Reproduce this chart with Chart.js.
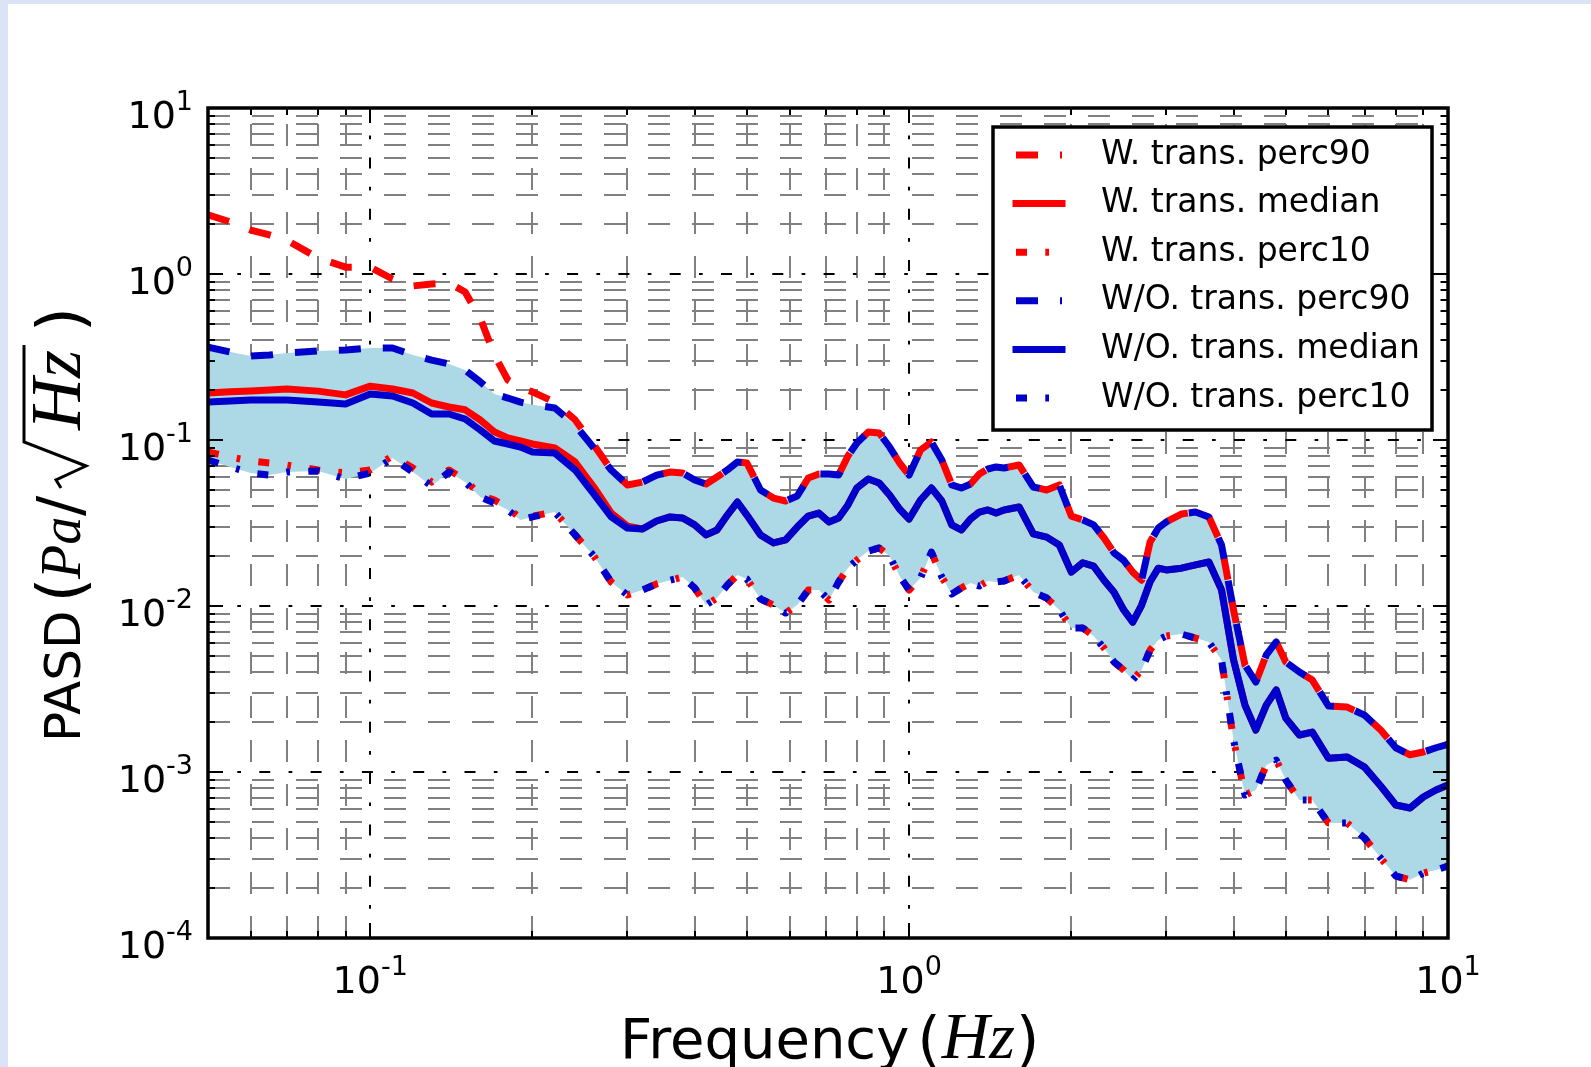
<!DOCTYPE html>
<html>
<head>
<meta charset="utf-8">
<title>PASD</title>
<script src="https://cdn.jsdelivr.net/npm/chart.js@4.4.1/dist/chart.umd.min.js"></script>
<style>
  html, body { margin: 0; padding: 0; background: #dbe4f4; overflow: hidden; }
  #wrap { position: absolute; left: 8px; top: 4px; width: 1583px; height: 1063px; background: #fff; }
  canvas { display: block; }
</style>
</head>
<body>
<div id="wrap"><canvas id="psdChart" width="1583" height="1063"></canvas></div>
<script>
const freqs = [
    0.05, 0.055, 0.06, 0.065, 0.07, 0.08, 0.09, 0.1,
    0.11, 0.12, 0.13, 0.14, 0.15, 0.16, 0.17, 0.18, 0.19, 0.2,
    0.22, 0.24, 0.26, 0.28, 0.3,
    0.32, 0.34, 0.36, 0.38, 0.4, 0.42, 0.44, 0.46, 0.48,
    0.5, 0.53, 0.56, 0.59, 0.62, 0.65, 0.68, 0.71, 0.74, 0.77, 0.8,
    0.84, 0.88, 0.92, 0.96, 1.0,
    1.05, 1.1, 1.15, 1.2, 1.25, 1.3, 1.35, 1.4, 1.45, 1.5,
    1.6, 1.7, 1.8, 1.9, 2.0,
    2.1, 2.2, 2.3, 2.4, 2.5, 2.6, 2.7, 2.8, 2.9, 3.0,
    3.2, 3.4, 3.6, 3.8, 4.0,
    4.2, 4.4, 4.6, 4.8, 5.0,
    5.3, 5.6, 6.0, 6.5, 7.0, 7.5, 8.0, 8.5, 9.0, 9.5, 10
];

// With transducer (red)
const wPerc90 = [
    2.27, 2.06, 1.84, 1.72, 1.60, 1.25, 1.10, 1.10,
    0.933, 0.847, 0.871, 0.883, 0.779, 0.543, 0.325, 0.230, 0.206, 0.195,
    0.169, 0.132, 0.0933, 0.066, 0.0536,
    0.0558, 0.0615, 0.0641, 0.0633, 0.0574, 0.0543, 0.0599, 0.066, 0.0737,
    0.0727, 0.05, 0.0447, 0.0429, 0.046, 0.059, 0.0624, 0.0624, 0.0615, 0.0801, 0.0959,
    0.1117, 0.1102, 0.0907, 0.0727, 0.0615,
    0.087, 0.0972, 0.0758, 0.0536, 0.0514, 0.0543, 0.0624, 0.0669, 0.0688, 0.0678,
    0.0707, 0.0521, 0.05, 0.0536, 0.0348,
    0.033, 0.0308, 0.0257, 0.0209, 0.0189, 0.016, 0.0143, 0.0243, 0.0295, 0.0321,
    0.0358, 0.0368, 0.0344, 0.0233, 0.00946,
    0.00441, 0.00348, 0.00507, 0.00607, 0.0046,
    0.004, 0.00358, 0.0025, 0.00246, 0.0022, 0.00179, 0.0014, 0.00127, 0.00132, 0.0014, 0.00147
];
const wMedian = [
    0.192, 0.195, 0.197, 0.200, 0.203, 0.197, 0.187, 0.211,
    0.203, 0.192, 0.167, 0.158, 0.152, 0.132, 0.112, 0.103, 0.0986, 0.0946,
    0.0895, 0.0737, 0.0521, 0.0363, 0.0303,
    0.0291, 0.0325, 0.0344, 0.0339, 0.0308, 0.0268, 0.0287, 0.0353, 0.0423,
    0.0353, 0.0268, 0.024, 0.025, 0.0299, 0.0348, 0.0363, 0.0321, 0.0339, 0.0406, 0.0514,
    0.0582, 0.0551, 0.0466, 0.0384, 0.0334,
    0.0435, 0.0514, 0.0429, 0.0308, 0.0287, 0.0334, 0.0368, 0.0379, 0.0363, 0.0379,
    0.0395, 0.0272, 0.026, 0.0233, 0.016,
    0.0182, 0.0174, 0.0143, 0.0121, 0.0095, 0.008, 0.0101, 0.014, 0.0169, 0.0165,
    0.0169, 0.0177, 0.0184, 0.0125, 0.00473,
    0.00253, 0.00179, 0.00253, 0.00312, 0.00211,
    0.00167, 0.00174, 0.00121, 0.00123, 0.00107, 0.000824, 0.000633, 0.000607, 0.000707, 0.000779, 0.000835
];
const wPerc10 = [
    0.0847, 0.079, 0.0747, 0.0727, 0.0707, 0.066, 0.0633, 0.066,
    0.0801, 0.0678, 0.0558, 0.066, 0.0574, 0.0466, 0.0435, 0.0389, 0.0339, 0.0348,
    0.0368, 0.0268, 0.02, 0.01395, 0.01165,
    0.01248, 0.01357, 0.0143, 0.01495, 0.01284, 0.01014, 0.01117, 0.01338, 0.01537,
    0.01455, 0.01102, 0.01014, 0.00907, 0.01014, 0.01248, 0.01248, 0.01087, 0.01395, 0.01694, 0.0189,
    0.02144, 0.02236, 0.02, 0.01516, 0.01248,
    0.01475, 0.02114, 0.01495, 0.01181, 0.01284, 0.01376, 0.01319, 0.01415, 0.01395, 0.01415,
    0.01537, 0.01214, 0.01117, 0.00946, 0.00737,
    0.00737, 0.0066, 0.00558, 0.0046, 0.00412, 0.00358, 0.00412, 0.00543, 0.00624, 0.0066,
    0.00678, 0.00641, 0.00607, 0.00473, 0.00156,
    0.000727, 0.000779, 0.0011, 0.00118, 0.000895,
    0.000678, 0.000678, 0.000493, 0.000493, 0.0004, 0.000303, 0.000236, 0.000224, 0.000246, 0.000257, 0.000271
];

// Without transducer (blue)
const woPerc90 = [
    0.363, 0.339, 0.321, 0.325, 0.334, 0.344, 0.348, 0.358,
    0.358, 0.325, 0.303, 0.287, 0.264, 0.224, 0.189, 0.179, 0.169, 0.163,
    0.156, 0.123, 0.0895, 0.066, 0.0536,
    0.0558, 0.0615, 0.0641, 0.0633, 0.0574, 0.0543, 0.0599, 0.066, 0.0737,
    0.0727, 0.05, 0.0447, 0.0429, 0.046, 0.059, 0.0624, 0.0624, 0.0615, 0.0801, 0.0959,
    0.1117, 0.1102, 0.0907, 0.0727, 0.0615,
    0.087, 0.0972, 0.0758, 0.0536, 0.0514, 0.0543, 0.0624, 0.0669, 0.0688, 0.0678,
    0.0707, 0.0521, 0.05, 0.0536, 0.0348,
    0.033, 0.0308, 0.0257, 0.0209, 0.0189, 0.016, 0.0143, 0.0243, 0.0295, 0.0321,
    0.0358, 0.0368, 0.0344, 0.0233, 0.00946,
    0.00441, 0.00348, 0.00507, 0.00607, 0.0046,
    0.004, 0.00358, 0.0025, 0.00246, 0.0022, 0.00179, 0.0014, 0.00127, 0.00132, 0.0014, 0.00147
];
const woMedian = [
    0.1694, 0.1717, 0.1742, 0.1742, 0.1742, 0.1694, 0.1648, 0.1893,
    0.1841, 0.1671, 0.1434, 0.1434, 0.1338, 0.1149, 0.0986, 0.0946, 0.0907, 0.0847,
    0.0835, 0.066, 0.0473, 0.0344, 0.0295,
    0.0291, 0.0325, 0.0344, 0.0339, 0.0308, 0.0268, 0.0287, 0.0353, 0.0423,
    0.0353, 0.0268, 0.024, 0.025, 0.0299, 0.0348, 0.0363, 0.0321, 0.0339, 0.0406, 0.0514,
    0.0582, 0.0551, 0.0466, 0.0384, 0.0334,
    0.0435, 0.0514, 0.0429, 0.0308, 0.0287, 0.0334, 0.0368, 0.0379, 0.0363, 0.0379,
    0.0395, 0.0272, 0.026, 0.0233, 0.016,
    0.0182, 0.0174, 0.0143, 0.0121, 0.0095, 0.008, 0.0101, 0.014, 0.0169, 0.0165,
    0.0169, 0.0177, 0.0184, 0.0125, 0.00473,
    0.00253, 0.00179, 0.00253, 0.00312, 0.00211,
    0.00167, 0.00174, 0.00121, 0.00123, 0.00107, 0.000824, 0.000633, 0.000607, 0.000707, 0.000779, 0.000835
];
const woPerc10 = [
    0.0758, 0.0688, 0.0633, 0.0615, 0.0641, 0.0651, 0.0582, 0.0633,
    0.0779, 0.0641, 0.0528, 0.0641, 0.0558, 0.0454, 0.0417, 0.0379, 0.033, 0.0344,
    0.0368, 0.0268, 0.02, 0.01395, 0.01165,
    0.01248, 0.01357, 0.0143, 0.01495, 0.01284, 0.01014, 0.01117, 0.01338, 0.01537,
    0.01455, 0.01102, 0.01014, 0.00907, 0.01014, 0.01248, 0.01248, 0.01087, 0.01395, 0.01694, 0.0189,
    0.02144, 0.02236, 0.02, 0.01516, 0.01248,
    0.01475, 0.02114, 0.01495, 0.01181, 0.01284, 0.01376, 0.01319, 0.01415, 0.01395, 0.01415,
    0.01537, 0.01214, 0.01117, 0.00946, 0.00737,
    0.00737, 0.0066, 0.00558, 0.0046, 0.00412, 0.00358, 0.00412, 0.00543, 0.00624, 0.0066,
    0.00678, 0.00641, 0.00607, 0.00473, 0.00156,
    0.000727, 0.000779, 0.0011, 0.00118, 0.000895,
    0.000678, 0.000678, 0.000493, 0.000493, 0.0004, 0.000303, 0.000236, 0.000224, 0.000246, 0.000257, 0.000271
];

// Axis decades and their labels (base, exponent)
const xMajor = [0.1, 1, 10];
const xLabels = [['10', '-1'], ['10', '0'], ['10', '1']];
const yMajor = [1e-4, 1e-3, 1e-2, 1e-1, 1, 10];
const yLabels = [['10', '-4'], ['10', '-3'], ['10', '-2'], ['10', '-1'], ['10', '0'], ['10', '1']];

const RED = '#ff0000';
const BLUE = '#0000cc';
const BAND = '#add8e6';
const DASH = [22, 22];
const DASHDOT = [11, 18.3, 3.7, 18.3];

function isDecade(v) {
    const l = Math.log10(v);
    return Math.abs(l - Math.round(l)) < 1e-6;
}

// log ticks at 1..9 x 10^n between min and max
function logTicks(min, max) {
    const out = [];
    for (let e = Math.floor(Math.log10(min)); e <= Math.ceil(Math.log10(max)); e++) {
        for (let m = 1; m < 10; m++) {
            const v = +(m * Math.pow(10, e)).toPrecision(6);
            if (v >= min * 0.9999 && v <= max * 1.0001) out.push({ value: v });
        }
    }
    return out;
}

function pts(vals) {
    return freqs.map((f, i) => ({ x: f, y: vals[i] }));
}

function series(label, vals, color, dash, order) {
    return {
        label: label,
        data: pts(vals),
        borderColor: color,
        backgroundColor: color,
        borderWidth: 7,
        borderDash: dash,
        borderCapStyle: dash.length ? 'butt' : 'square',
        borderJoinStyle: 'round',
        pointRadius: 0,
        tension: 0,
        fill: false,
        order: order
    };
}

const datasets = [
    series('W. trans. perc90', wPerc90, RED, DASH, 2),
    series('W. trans. median', wMedian, RED, [], 2),
    series('W. trans. perc10', wPerc10, RED, DASHDOT, 2),
    Object.assign(series('W/O. trans. perc90', woPerc90, BLUE, DASH, 1),
        { fill: { target: 5 }, backgroundColor: BAND }),
    series('W/O. trans. median', woMedian, BLUE, [], 1),
    series('W/O. trans. perc10', woPerc10, BLUE, DASHDOT, 1)
];

// grid style: decades black dash-dot, the rest grey dashed
function gridColor(c) {
    return c.tick && isDecade(c.tick.value) ? '#000000' : '#808080';
}
function gridDash(c) {
    if (!c.tick) return [];
    return isDecade(c.tick.value) ? DASHDOT : DASH;
}
// vertical lines start their pattern at the bottom, like the original
function vGridOffset(c) {
    if (!c.tick) return 0;
    const a = c.chart.chartArea;
    const h = a.bottom - a.top;
    const major = isDecade(c.tick.value);
    const period = major ? 51.3 : 44;
    const first = major ? 11 : 22;
    return ((-(h - first)) % period + period) % period;
}

// "10" with a raised exponent
function drawPower(c, lab, x, y, align) {
    c.font = '38px "DejaVu Sans"';
    const wb = c.measureText(lab[0]).width;
    c.font = '27px "DejaVu Sans"';
    const we = c.measureText(lab[1]).width;
    const x0 = align === 'right' ? x - wb - we : x - (wb + we) / 2;
    c.font = '38px "DejaVu Sans"';
    c.fillText(lab[0], x0, y);
    c.font = '27px "DejaVu Sans"';
    c.fillText(lab[1], x0 + wb, y - 18);
}

// writes one piece on the baseline, returns where it ends
function writeAt(c, text, font, u, v) {
    c.font = font;
    c.fillText(text, u, v);
    return u + c.measureText(text).width;
}

const decorations = {
    id: 'decorations',
    afterDraw(chart) {
        const { ctx, chartArea: a, scales } = chart;
        ctx.save();

        // inward tick marks on all four sides
        ctx.strokeStyle = '#000';
        ctx.lineWidth = 2;
        ctx.beginPath();
        scales.x.ticks.forEach(t => {
            const px = Math.round(scales.x.getPixelForValue(t.value));
            const len = isDecade(t.value) ? 15 : 7;
            ctx.moveTo(px, a.bottom); ctx.lineTo(px, a.bottom - len);
            ctx.moveTo(px, a.top); ctx.lineTo(px, a.top + len);
        });
        scales.y.ticks.forEach(t => {
            const py = Math.round(scales.y.getPixelForValue(t.value));
            const len = isDecade(t.value) ? 15 : 7;
            ctx.moveTo(a.left, py); ctx.lineTo(a.left + len, py);
            ctx.moveTo(a.right, py); ctx.lineTo(a.right - len, py);
        });
        ctx.stroke();

        // axes frame
        ctx.lineWidth = 3.5;
        ctx.strokeRect(a.left, a.top, a.right - a.left, a.bottom - a.top);

        // tick labels
        ctx.fillStyle = '#000';
        ctx.textBaseline = 'alphabetic';
        ctx.textAlign = 'left';
        xMajor.forEach((v, i) => drawPower(ctx, xLabels[i], scales.x.getPixelForValue(v), a.bottom + 55, 'center'));
        yMajor.forEach((v, i) => drawPower(ctx, yLabels[i], a.left - 15, scales.y.getPixelForValue(v) + 20, 'right'));

        // legend box
        const lx = a.right - 455, ly = a.top + 19, lw = 439, lh = 303;
        ctx.fillStyle = '#fff';
        ctx.fillRect(lx, ly, lw, lh);
        ctx.strokeRect(lx, ly, lw, lh);
        chart.data.datasets.forEach((ds, k) => {
            const yy = ly + 28 + k * 48.6;
            ctx.beginPath();
            ctx.setLineDash(ds.borderDash);
            ctx.lineCap = ds.borderCapStyle;
            ctx.lineWidth = 7;
            ctx.strokeStyle = ds.borderColor;
            ctx.moveTo(lx + 23, yy);
            ctx.lineTo(lx + 69, yy);
            ctx.stroke();
            ctx.setLineDash([]);
            ctx.fillStyle = '#000';
            ctx.font = '33px "DejaVu Sans"';
            ctx.textBaseline = 'middle';
            ctx.fillText(ds.label, lx + 108, yy);
        });

        // x axis title
        ctx.fillStyle = '#000';
        ctx.strokeStyle = '#000';
        ctx.textBaseline = 'alphabetic';
        let u = writeAt(ctx, 'Frequency', '56px "DejaVu Sans"', a.left + 412, 1054);
        u = writeAt(ctx, '(', '60px "DejaVu Sans"', u + 8, 1056);
        u = writeAt(ctx, 'Hz', 'italic 66px "Liberation Serif"', u + 1, 1054);
        writeAt(ctx, ')', '60px "DejaVu Sans"', u + 1, 1056);

        // y axis title, written bottom to top
        ctx.save();
        ctx.translate(72, 738);
        ctx.rotate(-Math.PI / 2);
        u = writeAt(ctx, 'PASD', '50px "DejaVu Sans"', 0, 0);
        writeAt(ctx, '(', '64px "DejaVu Sans"', Math.max(114, u + 8), 3);
        writeAt(ctx, 'Pa', 'italic 56px "Liberation Serif"', 163, 0);
        writeAt(ctx, '/', '60px "DejaVu Sans"', 226, 0);
        // square root sign with its bar over Hz
        const r0 = 252;
        ctx.font = 'italic 72px "Liberation Serif"';
        const hzW = ctx.measureText('Hz').width;
        ctx.beginPath();
        ctx.lineWidth = 3;
        ctx.lineJoin = 'miter';
        ctx.moveTo(r0 + 2, -19);
        ctx.lineTo(r0 + 10, -24);
        ctx.lineTo(r0 + 24, 6);
        ctx.lineTo(r0 + 48, -56);
        ctx.lineTo(r0 + 60 + hzW + 5, -56);
        ctx.stroke();
        u = writeAt(ctx, 'Hz', 'italic 72px "Liberation Serif"', r0 + 60, 0);
        writeAt(ctx, ')', '64px "DejaVu Sans"', Math.max(410, u + 12), 3);
        ctx.restore();

        ctx.restore();
    }
};

const ctx = document.getElementById('psdChart').getContext('2d');
new Chart(ctx, {
    type: 'line',
    data: { datasets: datasets },
    options: {
        responsive: false,
        animation: false,
        devicePixelRatio: 1,
        layout: { padding: { left: 0, right: 143, top: 104, bottom: 0 } },
        plugins: {
            legend: { display: false },
            tooltip: { enabled: false },
            filler: { drawTime: 'beforeDatasetsDraw' }
        },
        scales: {
            x: {
                type: 'logarithmic',
                min: 0.05,
                max: 10,
                z: 1,
                afterBuildTicks: scale => { scale.ticks = logTicks(0.05, 10); },
                afterFit: scale => { scale.height = 129; },
                grid: { color: gridColor, lineWidth: 2, drawTicks: false },
                border: { display: false, dash: gridDash, dashOffset: vGridOffset },
                ticks: { display: false, autoSkip: false }
            },
            y: {
                type: 'logarithmic',
                min: 1e-4,
                max: 10,
                z: 1,
                afterBuildTicks: scale => { scale.ticks = logTicks(1e-4, 10); },
                afterFit: scale => { scale.width = 200; },
                grid: { color: gridColor, lineWidth: 2, drawTicks: false },
                border: { display: false, dash: gridDash, dashOffset: 0 },
                ticks: { display: false, autoSkip: false }
            }
        }
    },
    plugins: [decorations]
});
</script>
</body>
</html>
